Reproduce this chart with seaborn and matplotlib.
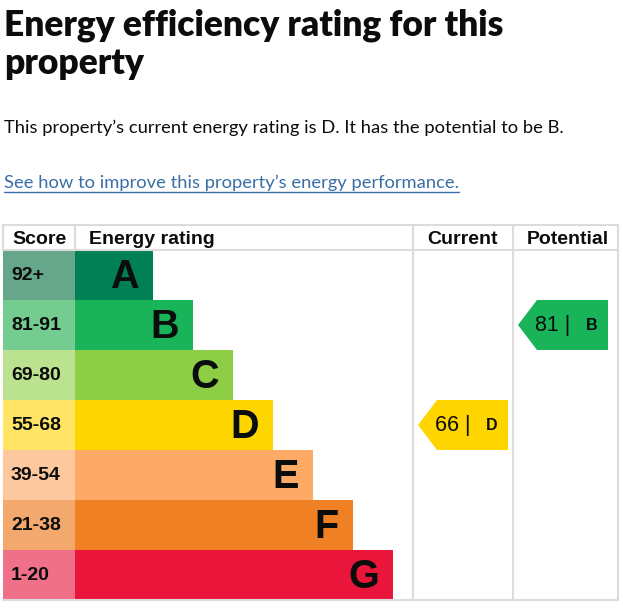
import matplotlib
matplotlib.use('Agg')
import matplotlib.pyplot as plt
import seaborn as sns
import pandas as pd

# Energy rating bands (EPC)
bands = ['A', 'B', 'C', 'D', 'E', 'F', 'G']
score_ranges = ['92+', '81-91', '69-80', '55-68', '39-54', '21-38', '1-20']
# length of each rating bar (px)
rating_len = [78, 118, 158, 198, 238, 278, 318]
band_colors = ['#008054', '#19b459', '#8dce46', '#ffd500', '#fcaa65', '#ef8023', '#e9153b']
score_colors = ['#66a68a', '#75cc90', '#bbe28f', '#ffe466', '#fdc89e', '#f3a96e', '#f07089']

current_score, current_band = 66, 'D'
potential_score, potential_band = 81, 'B'

W, H = 623, 611
sns.set_theme(style='white')
plt.rcParams['font.family'] = ['Liberation Sans', 'DejaVu Sans']

fig = plt.figure(figsize=(W / 100, H / 100), dpi=100)

# page text
page_font = ['Lato', 'DejaVu Sans']
fig.text(4 / W, 1 - 25 / H, 'Energy efficiency rating for this', fontsize=25.5,
         fontweight='heavy', family=page_font, color='#0b0c0c', va='center')
fig.text(4 / W, 1 - 64 / H, 'property', fontsize=25.5, fontweight='heavy',
         family=page_font, color='#0b0c0c', va='center')
fig.text(4 / W, 1 - 128 / H,
         'This property\u2019s current energy rating is D. It has the potential to be B.',
         fontsize=13.2, family=page_font, color='#0b0c0c', va='center')
link = fig.text(4 / W, 1 - 183 / H, 'See how to improve this property\u2019s energy performance.',
                fontsize=13.2, family=page_font, color='#3a6ea5', va='center')
fig.canvas.draw()
bb = link.get_window_extent()
fig.add_artist(plt.Line2D([bb.x0 / W, bb.x1 / W], [1 - 192 / H, 1 - 192 / H],
                          color='#3a6ea5', lw=1.0))

# table axes: px x-units from left border, one row per band
x0, x1, top, bottom = 3, 618, 250, 600
ax = fig.add_axes([x0 / W, (H - bottom) / H, (x1 - x0) / W, (bottom - top) / H])
score_w = 72
cur_left, pot_left = 410, 510

df = pd.DataFrame({'band': bands, 'score': score_ranges,
                   'end': [score_w + r for r in rating_len]})

sns.barplot(data=df, x='end', y='band', hue='band', palette=band_colors,
            saturation=1, width=1.0, orient='h', legend=False, ax=ax, linewidth=0)
df['score_w'] = score_w
sns.barplot(data=df, x='score_w', y='band', hue='band', palette=score_colors,
            saturation=1, width=1.0, orient='h', legend=False, ax=ax, linewidth=0)

for i, row in df.iterrows():
    ax.text(8, i, row['score'], fontsize=14, fontweight='bold', va='center',
            ha='left', color='#0b0c0c')
    ax.text(row['end'] - 14, i + 0.03, row['band'], fontsize=28.5, fontweight='bold',
            va='center', ha='right', color='#0b0c0c')


def arrow(col_left, score, band):
    i = bands.index(band)
    c = band_colors[i]
    left, right, tip = col_left + 5, col_left + 95, 19
    xs = [left, left + tip, right, right, left + tip]
    ys = [i, i - 0.5, i - 0.5, i + 0.5, i + 0.5]
    ax.fill(xs, ys, color=c, lw=0, zorder=3)
    ax.text(left + 17, i, f'{score} |', fontsize=15.5, va='center', ha='left',
            color='#0b0c0c', zorder=4)
    ax.text(left + 68, i, band, fontsize=11.5, fontweight='bold', va='center',
            ha='left', color='#0b0c0c', zorder=4)


arrow(cur_left, current_score, current_band)
arrow(pot_left, potential_score, potential_band)

ax.set_xlim(0, x1 - x0)
ax.set_ylim(6.5, -0.5)
ax.set_xticks([])
ax.set_yticks([])
ax.set_xlabel('')
ax.set_ylabel('')
for s in ax.spines.values():
    s.set_visible(False)

# table grid lines (figure coords)
grid = '#dcdcdc'
def fx(px):
    return px / W
def fy(py):
    return 1 - py / H

for px in [413, 513, 618]:
    fig.add_artist(plt.Line2D([fx(px), fx(px)], [fy(225), fy(600)], color=grid, lw=1.5))
for px in [3, 75]:
    fig.add_artist(plt.Line2D([fx(px), fx(px)], [fy(225), fy(250)], color=grid, lw=1.5))
for py in [225, 250]:
    fig.add_artist(plt.Line2D([fx(3), fx(618)], [fy(py), fy(py)], color=grid, lw=1.5))
fig.add_artist(plt.Line2D([fx(3), fx(618)], [fy(600), fy(600)], color=grid, lw=1.5))

# header
hdr = dict(fontsize=14, fontweight='bold', va='center', color='#0b0c0c')
fig.text(fx(39), fy(239), 'Score', ha='center', **hdr)
fig.text(fx(89), fy(239), 'Energy rating', ha='left', **hdr)
fig.text(fx(463), fy(239), 'Current', ha='center', **hdr)
fig.text(fx(568), fy(239), 'Potential', ha='center', **hdr)

fig.savefig('out.png', dpi=100)
